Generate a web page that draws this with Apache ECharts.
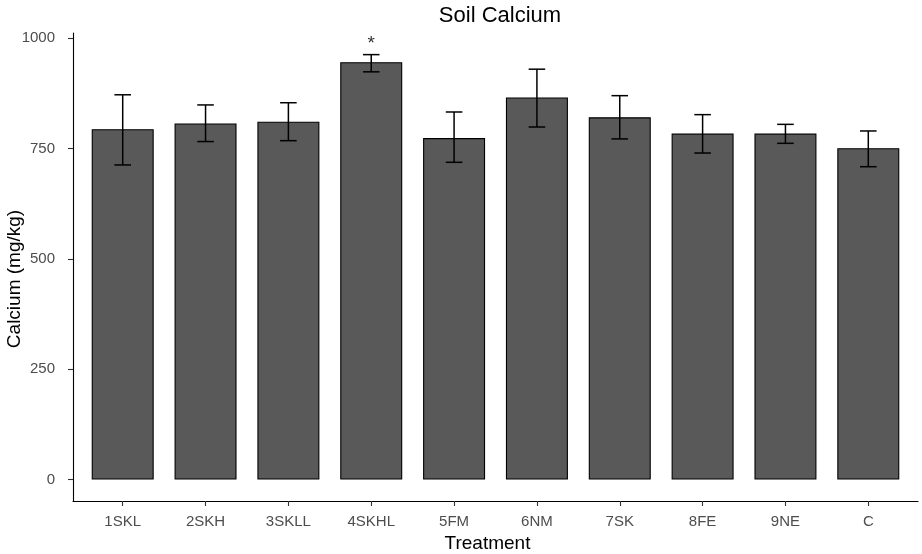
<!DOCTYPE html>
<html>
<head>
<meta charset="utf-8">
<script src="https://cdn.jsdelivr.net/npm/echarts@6/dist/echarts.min.js"></script>
<style>html,body{margin:0;padding:0;background:#fff;}#c{width:922px;height:554px;}</style>
</head>
<body>
<div id="c"></div>
<script>
var categories = ['1SKL','2SKH','3SKLL','4SKHL','5FM','6NM','7SK','8FE','9NE','C'];
var means = [794, 807, 811, 946, 774, 866, 821, 784, 784, 751];
var lower = [713, 766, 768, 924, 719, 799, 772, 740, 762, 709];
var upper = [872, 849, 854, 963, 833, 930, 870, 827, 805, 790];
var sigMarks = ['', '', '', '*', '', '', '', '', '', ''];
var yTicks = [0, 250, 500, 750, 1000];

var FONT = '"Liberation Sans", Arial, sans-serif';
var idx = categories.map(function (c, i) { return i; });
var barData = means.map(function (v, i) { return [i, v]; });
var errData = means.map(function (v, i) { return [i, lower[i], upper[i]]; });

var chart = echarts.init(document.getElementById('c'), null, {renderer: 'canvas'});
chart.setOption({
  animation: false,
  backgroundColor: '#ffffff',
  title: {
    text: 'Soil Calcium',
    left: 495, top: 0, textAlign: 'center',
    textStyle: {fontFamily: FONT, fontSize: 22, fontWeight: 'normal', color: '#000'}
  },
  grid: {left: 73, right: 4, top: 33, bottom: 53, containLabel: false, outerBoundsMode: 'none'},
  xAxis: {
    type: 'value', min: -0.6, max: 9.6,
    name: 'Treatment', nameLocation: 'middle', nameGap: 31,
    nameTextStyle: {fontFamily: FONT, fontSize: 19, color: '#000', padding: [0, 16, 0, 0]},
    splitLine: {show: false},
    axisLine: {show: true, onZero: false, lineStyle: {color: '#000', width: 1.1}},
    axisTick: {show: true, customValues: idx, length: 5, lineStyle: {color: '#333', width: 1.1}},
    axisLabel: {
      customValues: idx, margin: 13,
      fontFamily: FONT, fontSize: 15, color: '#4d4d4d',
      formatter: function (v) { return categories[Math.round(v)]; }
    }
  },
  yAxis: {
    type: 'value', min: -48.5, max: 1012,
    name: 'Calcium (mg/kg)', nameLocation: 'middle', nameGap: 49,
    nameMoveOverlap: false,
    nameTextStyle: {fontFamily: FONT, fontSize: 19, color: '#000', padding: [0, 24, 0, 0]},
    splitLine: {show: false},
    axisLine: {show: true, onZero: false, lineStyle: {color: '#000', width: 1.1}},
    axisTick: {show: true, customValues: yTicks, length: 5, lineStyle: {color: '#333', width: 1.1}},
    axisLabel: {
      customValues: yTicks, margin: 18,
      fontFamily: FONT, fontSize: 15, color: '#4d4d4d',
      formatter: function (v) { return String(v); }
    }
  },
  series: [
    {
      type: 'bar',
      data: barData,
      barWidth: 62,
      itemStyle: {color: '#595959', borderColor: '#000', borderWidth: 1.1},
      z: 2
    },
    {
      type: 'custom',
      data: errData,
      z: 3,
      renderItem: function (params, api) {
        var x = api.value(0);
        var lo = api.coord([x, api.value(1)]);
        var hi = api.coord([x, api.value(2)]);
        var hw = api.size([0.2, 0])[0] / 2;
        var style = {stroke: '#000', lineWidth: 1.5};
        var children = [
          {type: 'line', shape: {x1: lo[0], y1: lo[1], x2: hi[0], y2: hi[1]}, style: style},
          {type: 'line', shape: {x1: lo[0] - hw, y1: lo[1], x2: lo[0] + hw, y2: lo[1]}, style: style},
          {type: 'line', shape: {x1: hi[0] - hw, y1: hi[1], x2: hi[0] + hw, y2: hi[1]}, style: style}
        ];
        var mark = sigMarks[params.dataIndex];
        if (mark) {
          children.push({
            type: 'text',
            style: {
              text: mark, x: hi[0], y: hi[1] - 1,
              align: 'center', verticalAlign: 'bottom',
              fontFamily: FONT, fontSize: 19, fill: '#333'
            }
          });
        }
        return {type: 'group', children: children};
      }
    }
  ]
});
</script>
</body>
</html>
